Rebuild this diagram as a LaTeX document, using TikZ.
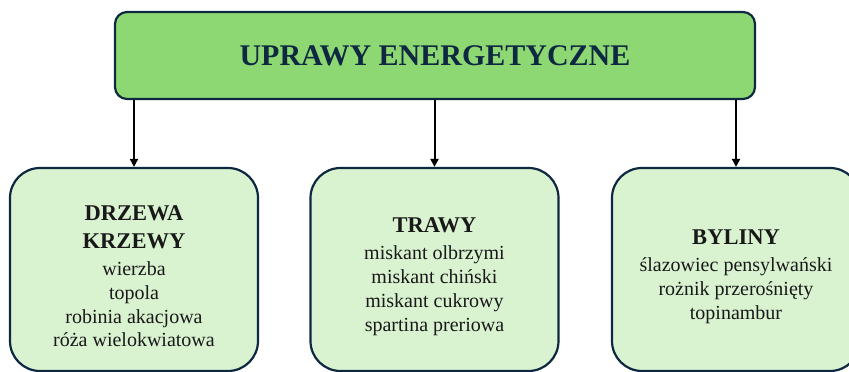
\documentclass[tikz,border=0pt]{standalone}
\usepackage{fontspec}
\setmainfont{Liberation Serif}
\usepackage{tikz}
\usetikzlibrary{arrows.meta}
\definecolor{RimColor}{RGB}{14,40,65}
\definecolor{TopColor}{RGB}{142,216,115}
\definecolor{BoxColor}{RGB}{217,242,208}
% group heading, first line carries extra height so the text sits a bit low
\newcommand{\grouphead}[1]{{\fontsize{22.5}{27}\selectfont\bfseries #1}}
\newcommand{\lowstrut}{\rule{0pt}{29pt}}

\begin{document}
\begin{tikzpicture}[x=1pt,y=1pt,
  every text node part/.style={align=center},
  topbox/.style={draw=RimColor, fill=TopColor, line width=2.2pt, rounded corners=12pt,
    minimum width=640pt, minimum height=87pt, text=RimColor,
    font=\fontsize{30}{36}\selectfont\bfseries},
  groupbox/.style={draw=RimColor, fill=BoxColor, line width=2.2pt, rounded corners=30pt,
    minimum width=248pt, minimum height=203pt, text=black!90,
    font=\fontsize{20}{23.8}\selectfont},
  link/.style={-{Triangle[length=8pt,width=8pt]}, line width=2pt, black}]

  \useasboundingbox (0,0) rectangle (849,372);

  \node[topbox] (crops) at (435,316.5) {UPRAWY ENERGETYCZNE};

  \node[groupbox] (trees) at (134,102.5) {\lowstrut\grouphead{DRZEWA}\\[3.5pt]
    \grouphead{KRZEWY}\\[3.5pt]
    wierzba\\ topola\\ robinia akacjowa\\ róża wielokwiatowa};

  \node[groupbox] (grass) at (434.5,102.5) {\lowstrut\grouphead{TRAWY}\\[3.5pt]
    miskant olbrzymi\\ miskant chiński\\ miskant cukrowy\\ spartina preriowa};

  \node[groupbox] (perennial) at (736,102.5) {\lowstrut\grouphead{BYLINY}\\[3.5pt]
    ślazowiec pensylwański\\ rożnik przerośnięty\\ topinambur};

  % arrows down to the groups
  \draw[link] (crops.south -| trees.north) -- (trees.north);
  \draw[link] (crops.south -| grass.north) -- (grass.north);
  \draw[link] (crops.south -| perennial.north) -- (perennial.north);

\end{tikzpicture}
\end{document}
